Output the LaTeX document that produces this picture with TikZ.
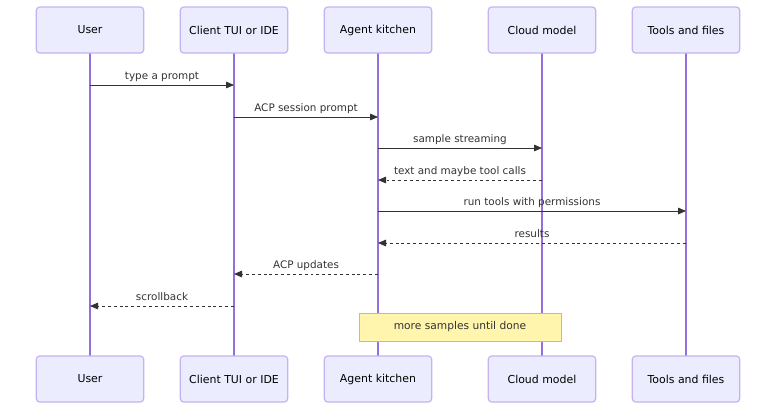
\documentclass[tikz,border=0pt]{standalone}
\usepackage{fontspec}
\setmainfont{DejaVu Sans}
\usetikzlibrary{arrows.meta}
\definecolor{actfill}{HTML}{ECECFF}
\definecolor{actdraw}{HTML}{C3B3F0}
\definecolor{lifeline}{HTML}{9370DB}
\definecolor{sig}{HTML}{333333}
\definecolor{notefill}{HTML}{FFF5AD}
\definecolor{notedraw}{HTML}{C8C84A}
\tikzset{
  actor/.style={draw=actdraw, fill=actfill, line width=0.9pt, rounded corners=2.5pt,
    minimum width=80.5pt, minimum height=34.5pt, inner sep=0pt, font=\fontsize{8.2}{10}\selectfont, text=black},
  life/.style={draw=lifeline, line width=0.85pt},
  msg/.style={draw=sig, line width=0.65pt, -{Triangle[length=6pt,width=5pt]}},
  reply/.style={msg, dash pattern=on 2.2pt off 2.2pt},
  lbl/.style={font=\fontsize{7.8}{9}\selectfont, text=sig, inner sep=0pt, anchor=base},
  notebox/.style={draw=notedraw, fill=notefill, line width=0.7pt, minimum width=151.5pt, minimum height=21pt, inner sep=0pt, font=\fontsize{8}{9}\selectfont, text=sig}
}
\begin{document}
\begin{tikzpicture}[x=0.75pt,y=-0.75pt]
\useasboundingbox (0,0) rectangle (784,415);
% lifelines and message anchor points
\foreach \n/\x in {u/90, c/234, a/378, m/542, t/686}{
  \coordinate (\n top) at (\x,53);
  \coordinate (\n bot) at (\x,356);
  \draw[life] (\n top) -- (\n bot);
  \foreach \y in {85,117,148,180,211,243,274,306}{
    \coordinate (\n\y) at (\x,\y);
  }
}
\node[actor] (u1) at (90,30) {User};
\node[actor] (c1) at (234,30) {Client TUI or IDE};
\node[actor] (a1) at (378,30) {Agent kitchen};
\node[actor] (m1) at (542,30) {Cloud model};
\node[actor] (t1) at (686,30) {Tools and files};
\node[actor] (u2) at (90,379) {User};
\node[actor] (c2) at (234,379) {Client TUI or IDE};
\node[actor] (a2) at (378,379) {Agent kitchen};
\node[actor] (m2) at (542,379) {Cloud model};
\node[actor] (t2) at (686,379) {Tools and files};
% messages
\draw[msg] (u85) -- (c85) node[lbl, midway, yshift=4.3pt] {type a prompt};
\draw[msg] (c117) -- (a117) node[lbl, midway, yshift=4.3pt] {ACP session prompt};
\draw[msg] (a148) -- (m148) node[lbl, midway, yshift=4.3pt] {sample streaming};
\draw[reply] (m180) -- (a180) node[lbl, midway, yshift=4.3pt] {text and maybe tool calls};
\draw[msg] (a211) -- (t211) node[lbl, midway, yshift=4.3pt] {run tools with permissions};
\draw[reply] (t243) -- (a243) node[lbl, midway, yshift=4.3pt] {results};
\draw[reply] (a274) -- (c274) node[lbl, midway, yshift=4.3pt] {ACP updates};
\draw[reply] (c306) -- (u306) node[lbl, midway, yshift=4.3pt] {scrollback};
% note
\node[notebox] (note) at (460,327) {more samples until done};
\end{tikzpicture}
\end{document}
